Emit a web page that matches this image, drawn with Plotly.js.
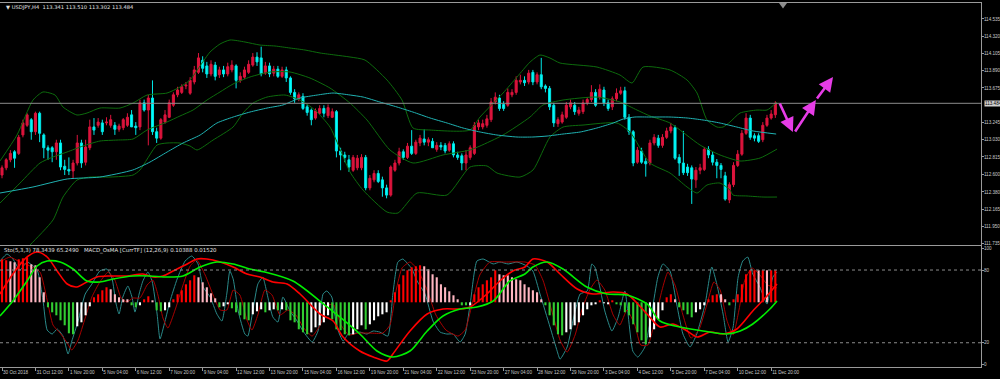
<!DOCTYPE html>
<html><head><meta charset="utf-8">
<script src="https://cdn.plot.ly/plotly-3.0.1.min.js"></script>
<style>html,body{margin:0;padding:0;background:#000;}#chart{width:1000px;height:379px;}</style>
</head><body><div id="chart"></div>
<script>
const symbol = "USDJPY,H4";
const tickLabels = ["30 Oct 2018","31 Oct 12:00","1 Nov 20:00","5 Nov 04:00","6 Nov 12:00","7 Nov 20:00","9 Nov 04:00","12 Nov 12:00","13 Nov 20:00","15 Nov 04:00","16 Nov 12:00","19 Nov 20:00","21 Nov 04:00","22 Nov 12:00","23 Nov 20:00","27 Nov 04:00","28 Nov 12:00","29 Nov 20:00","3 Dec 04:00","4 Dec 12:00","5 Dec 20:00","7 Dec 04:00","10 Dec 12:00","11 Dec 20:00"];
const barsPerLabel = 8;
const priceTicks = [114.535,114.320,114.105,113.890,113.675,113.245,113.030,112.815,112.600,112.380,112.165,111.950,111.735];

const openP = [
112.59,112.68,112.78,112.88,112.86,113.09,113.21,113.28,113.13,113.36,
113.09,112.93,112.93,112.88,112.99,112.70,112.66,112.64,112.74,112.99,
112.75,112.93,113.19,113.21,113.24,113.24,113.21,113.21,113.16,113.18,
113.21,113.34,113.20,113.19,113.49,113.40,113.55,113.13,113.05,113.25,
113.31,113.46,113.59,113.62,113.70,113.61,113.75,113.87,114.02,113.95,
113.85,113.96,113.84,113.90,113.85,113.90,113.95,113.77,113.81,113.87,
113.96,114.06,114.05,113.86,113.95,113.86,113.91,113.82,113.90,113.80,
113.62,113.54,113.57,113.44,113.40,113.30,113.36,113.42,113.33,113.31,
113.38,112.89,112.84,112.78,112.65,112.68,112.68,112.81,112.43,112.53,
112.61,112.53,112.43,112.34,112.65,112.74,112.88,112.81,112.95,112.86,
112.99,113.04,113.00,113.01,112.91,112.96,112.96,112.90,112.98,112.84,
112.83,112.74,112.81,112.86,113.19,113.19,113.21,113.28,113.50,113.55,
113.47,113.46,113.59,113.62,113.75,113.77,113.75,113.87,113.75,113.84,
113.70,113.67,113.46,113.23,113.25,113.31,113.44,113.46,113.36,113.38,
113.49,113.53,113.62,113.56,113.65,113.49,113.44,113.54,113.61,113.64,
113.31,113.13,112.75,112.89,112.76,112.74,112.99,113.05,112.96,113.06,
113.14,113.18,112.81,112.74,112.69,112.68,112.53,112.65,112.66,112.91,
112.84,112.75,112.71,112.58,112.28,112.47,112.71,112.85,113.11,113.30,
113.08,113.08,113.03,113.21,113.30,113.341];
const highP = [
112.71,112.80,112.90,112.90,113.09,113.28,113.36,113.30,113.38,113.38,
113.11,112.96,112.95,113.03,113.03,112.78,112.81,112.78,113.09,113.03,
113.03,113.28,113.30,113.30,113.28,113.31,113.34,113.25,113.23,113.30,
113.36,113.40,113.25,113.53,113.53,113.59,113.77,113.18,113.30,113.40,
113.53,113.62,113.69,113.72,113.75,113.81,113.95,114.11,114.07,114.00,
114.02,114.00,113.94,113.95,113.99,114.02,113.97,113.87,113.94,114.02,
114.11,114.12,114.19,114.00,113.99,113.95,113.95,113.94,113.94,113.82,
113.66,113.62,113.61,113.47,113.42,113.42,113.46,113.46,113.47,113.42,
113.40,112.93,112.88,112.84,112.84,112.84,112.85,112.84,112.59,112.65,
112.65,112.57,112.47,112.71,112.78,112.93,112.91,112.99,113.15,113.03,
113.09,113.16,113.06,113.05,113.00,113.00,112.99,113.01,113.01,112.88,
112.86,112.90,112.96,113.25,113.28,113.28,113.34,113.55,113.62,113.59,
113.51,113.67,113.66,113.82,113.84,113.82,113.90,113.90,113.87,114.05,
113.72,113.70,113.49,113.31,113.38,113.50,113.53,113.50,113.44,113.53,
113.56,113.71,113.66,113.72,113.69,113.53,113.57,113.67,113.69,113.69,
113.35,113.15,112.94,112.93,112.80,113.03,113.10,113.09,113.10,113.18,
113.24,113.21,112.85,113.14,112.73,112.71,112.69,112.73,112.94,112.95,
112.88,112.79,112.74,112.63,112.50,112.75,112.90,113.15,113.36,113.34,
113.11,113.11,113.25,113.34,113.40,113.510];
const lowP = [
112.55,112.65,112.75,112.68,112.84,113.06,113.19,113.03,113.09,113.00,
112.80,112.78,112.75,112.78,112.65,112.59,112.59,112.55,112.71,112.68,
112.71,112.90,113.09,113.18,113.09,113.21,113.18,113.09,113.13,113.15,
113.19,113.19,113.09,113.15,113.38,112.96,113.09,112.99,113.03,113.23,
113.30,113.44,113.56,113.60,113.66,113.59,113.72,113.85,113.87,113.80,
113.82,113.77,113.80,113.81,113.82,113.87,113.67,113.74,113.79,113.85,
113.94,113.95,113.82,113.84,113.81,113.82,113.80,113.80,113.75,113.59,
113.49,113.51,113.40,113.33,113.21,113.28,113.34,113.31,113.30,113.30,
112.81,112.65,112.75,112.63,112.63,112.65,112.65,112.40,112.40,112.50,
112.49,112.32,112.30,112.32,112.63,112.71,112.78,112.79,112.84,112.84,
112.95,112.96,112.95,112.93,112.88,112.90,112.86,112.88,112.81,112.78,
112.65,112.65,112.78,112.84,113.15,113.16,113.18,113.25,113.47,113.39,
113.39,113.44,113.56,113.59,113.72,113.70,113.72,113.71,113.72,113.66,
113.62,113.40,113.19,113.19,113.23,113.29,113.41,113.34,113.33,113.35,
113.46,113.50,113.44,113.53,113.45,113.39,113.40,113.51,113.59,113.28,
113.09,112.70,112.73,112.73,112.57,112.71,112.96,112.93,112.93,113.04,
113.11,112.78,112.58,112.59,112.58,112.23,112.43,112.60,112.64,112.80,
112.71,112.55,112.55,112.27,112.24,112.44,112.69,112.83,113.09,113.03,
113.01,112.99,113.00,113.19,113.28,113.302];
const closeP = [
112.68,112.78,112.86,112.80,113.06,113.24,113.34,113.13,113.36,113.11,
112.93,112.90,112.88,112.99,112.69,112.66,112.64,112.74,112.99,112.74,
112.94,113.19,113.15,113.25,113.13,113.25,113.28,113.16,113.20,113.28,
113.31,113.19,113.18,113.49,113.40,113.55,113.13,113.05,113.28,113.34,
113.49,113.59,113.65,113.69,113.71,113.77,113.90,114.05,113.92,113.85,
113.97,113.82,113.90,113.85,113.94,113.96,113.77,113.82,113.90,113.97,
114.06,114.00,113.85,113.95,113.85,113.91,113.82,113.90,113.80,113.62,
113.54,113.59,113.42,113.37,113.28,113.39,113.42,113.36,113.43,113.38,
112.89,112.84,112.81,112.69,112.81,112.80,112.81,112.43,112.55,112.61,
112.51,112.43,112.34,112.69,112.74,112.88,112.81,112.95,112.86,113.00,
113.05,113.00,113.03,112.93,112.96,112.94,112.89,112.98,112.84,112.81,
112.74,112.84,112.93,113.21,113.24,113.23,113.29,113.50,113.56,113.42,
113.42,113.62,113.62,113.77,113.77,113.74,113.86,113.75,113.84,113.69,
113.67,113.44,113.24,113.28,113.34,113.46,113.49,113.38,113.40,113.49,
113.53,113.62,113.46,113.66,113.49,113.42,113.54,113.61,113.64,113.31,
113.13,112.74,112.90,112.75,112.73,112.99,113.06,112.96,113.06,113.14,
113.19,112.80,112.74,112.62,112.62,112.54,112.65,112.68,112.91,112.84,
112.75,112.71,112.66,112.29,112.47,112.71,112.85,113.11,113.30,113.06,
113.05,113.01,113.21,113.30,113.35,113.484];

// Slow moving average (cyan), read at sample bar positions
const maIdx = [-0.5,7.4,15.6,23.4,31.3,35.4,39.5,43.3,47.4,51.4,55.3,59.3,63.4,67.2,71.3,75.4,79.2,83.3,86.4,90.4,94.5,98.3,102.4,106.5,110.3,114.4,118.4,123.2,127.0,130.4,134.2,138.3,142.3,146.2,148.6,151.4,155.0,159.8,163.9,167.7,171.8,175.8,179.7,185.2];
const maVal = [112.366,112.441,112.541,112.565,112.653,112.752,112.877,112.989,113.089,113.238,113.313,113.375,113.425,113.463,113.550,113.587,113.612,113.587,113.562,113.500,113.438,113.375,113.301,113.238,113.176,113.126,113.089,113.064,113.064,113.076,113.101,113.126,113.176,113.238,113.288,113.313,113.313,113.313,113.301,113.276,113.238,113.188,113.139,113.101];

// Bollinger bands (green)
const bbUpIdx = [-0.48,3.59,7.42,9.81,12.68,14.59,17.94,20.33,23.44,28.23,31.34,34.69,39.47,42.58,44.98,47.37,49.76,52.15,54.55,58.13,61.72,65.31,68.90,72.49,76.08,79.67,83.25,86.84,92.11,95.69,98.33,102.39,111.96,114.35,119.86,123.21,126.32,128.71,131.10,133.49,142.34,147.85,150.72,153.35,159.81,163.88,166.27,168.66,171.05,172.49,174.16,176.56,180.62,183.01,185.41];
const bbUpVal = [112.765,113.089,113.525,113.625,113.587,113.438,113.338,113.363,113.425,113.425,113.487,113.587,113.612,113.687,113.774,113.949,114.123,114.223,114.273,114.248,114.210,114.198,114.173,114.148,114.111,114.086,114.061,114.023,113.774,113.525,113.176,113.151,113.151,113.313,113.612,113.812,113.998,114.086,114.048,113.986,113.936,113.836,113.737,113.936,113.899,113.774,113.612,113.276,113.188,113.188,113.251,113.363,113.400,113.400,113.500];
const bbMidIdx = [-0.48,4.31,9.09,12.2,15.55,19.38,23.44,27.51,31.34,34.69,39.47,42.58,45.69,49.04,52.15,55.26,59.33,64.11,68.9,73.68,78.47,83.25,87.32,92.82,98.33,105.5,111.96,114.35,119.86,126.32,129.43,134.21,142.34,147.85,151.91,155.02,159.81,166.99,171.77,176.56,181.34,185.41];
const bbMidVal = [112.241,112.490,112.740,112.815,112.877,112.952,113.014,113.026,113.039,113.151,113.251,113.326,113.400,113.525,113.625,113.724,113.812,113.874,113.874,113.799,113.674,113.487,113.276,112.902,112.740,112.840,112.902,112.952,113.089,113.313,113.463,113.525,113.562,113.500,113.400,113.326,113.238,112.964,112.840,112.765,112.802,112.914];
const bbLowIdx = [-0.48,6.7,12.2,14.59,17.94,21.05,25.84,31.34,33.01,37.08,39.47,42.58,44.98,46.65,50.48,55.26,57.66,60.05,63.4,67.7,71.29,74.88,78.47,83.25,86.36,92.11,94.74,99.28,106.46,111.96,116.03,118.42,123.92,127.03,131.1,134.21,138.99,147.13,150.24,155.02,159.81,163.88,166.27,168.66,171.77,174.16,174.88,178.23,182.06,185.41];
const bbLowVal = [111.344,111.718,112.030,112.316,112.528,112.565,112.565,112.590,112.653,112.964,112.989,112.989,112.952,112.902,113.026,113.188,113.363,113.487,113.562,113.587,113.525,113.400,113.188,112.628,112.403,112.129,112.117,112.366,112.341,112.690,112.703,112.615,112.565,112.653,113.064,113.188,113.213,113.238,113.126,112.740,112.615,112.441,112.366,112.466,112.490,112.403,112.341,112.329,112.316,112.316];

// Stochastic (5,3,3)
const stochKIdx = [-0.5,1.2,2.6,4.3,6.0,8.4,9.8,10.8,12.0,13.2,14.6,15.8,16.7,18.2,19.9,21.5,23.4,25.1,26.3,27.3,28.0,28.9,30.1,31.1,31.8,32.8,33.7,34.9,35.9,37.1,37.8,39.0,40.2,41.9,43.8,45.4,46.9,48.1,49.8,51.4,52.6,53.8,54.5,55.3,56.5,58.1,58.8,60.0,61.2,62.4,62.9,64.8,66.0,67.2,68.9,70.6,72.0,74.2,75.6,76.8,77.7,78.9,80.1,81.6,82.8,83.9,85.6,87.3,88.8,90.4,92.3,93.5,94.7,95.9,97.1,98.1,99.3,101.2,103.1,104.8,106.4,107.9,109.6,110.8,112.0,113.6,115.1,117.5,119.1,121.1,123.2,125.6,127.0,128.7,131.1,132.8,133.5,135.2,137.1,138.3,140.0,141.1,141.8,143.0,144.2,145.9,147.4,149.0,150.9,152.1,153.8,155.5,156.9,158.1,159.8,161.4,162.9,164.6,166.2,168.2,169.8,171.0,172.5,173.7,174.9,176.1,177.2,178.4,179.6,181.3,183.0,184.4,185.4];
const stochKVal = [87.4,93.2,89.1,80,86.6,80,55.2,30.5,27.2,31.3,25.5,10.7,21.4,37.9,60.2,68.4,79.2,80.8,73.4,51.9,43.7,57.7,66.8,57.7,45.3,60.2,70.9,78.3,70.9,43.7,23.1,37.9,54.4,72.6,87.4,91.6,85.0,66.0,57.7,43.7,37.9,61.0,79.2,72.6,46.2,27.2,25.5,46.2,68.4,74.2,68.4,41.2,37.1,57.7,46.2,37.9,29.7,20.6,29.7,60.2,62.7,57.7,33.0,21.4,27.2,27.2,28.8,27.2,29.7,28.8,25.5,60.2,86.6,89.1,85.0,80.8,70.9,60.2,37.9,28.8,27.2,27.2,20.6,27.2,51.9,87.4,89.1,85.0,86.6,85.0,86.6,83.3,79.2,60.2,33.0,13.2,6.5,16.5,46.2,60.2,62.7,85.0,82.5,66.0,46.2,29.7,41.2,62.7,13.2,8.2,16.5,46.2,74.2,85.0,79.2,51.9,27.2,16.5,27.2,51.9,82.5,68.4,43.7,20.6,33.0,74.2,87.4,90.7,76.7,66.0,51.9,74.2,78.3439];
const stochDIdx = [-0.5,1.9,4.3,6.7,9.1,10.8,12.2,13.9,15.6,16.7,18.2,19.9,21.5,23.4,25.4,27.0,28.5,29.9,31.3,33.0,34.7,36.1,37.3,38.5,39.7,41.4,43.3,45.0,46.6,48.6,50.5,52.2,53.8,55.3,56.9,58.6,59.8,61.2,62.9,64.6,66.5,68.4,70.3,72.2,74.2,76.1,77.8,79.4,81.1,83.0,85.2,88.0,91.1,92.8,94.3,95.7,97.6,99.5,101.7,103.8,106.2,109.1,110.8,112.4,114.3,116.7,120.3,125.1,127.5,129.4,131.8,133.5,135.2,137.1,138.7,140.6,142.3,144.2,146.2,147.8,149.5,151.4,152.8,154.5,156.2,157.9,159.3,161.0,162.9,164.8,166.7,168.6,170.3,171.8,173.4,174.9,176.3,177.7,179.4,181.3,183.2,185.4];
const stochDVal = [86.6,90.7,86.6,83.3,78.3,55.2,34.6,28.0,19.8,14.0,22.2,40.4,57.7,70.1,78.3,71.7,56.9,53.6,56.9,56.9,67.6,71.7,59.4,40.4,32.1,47.0,67.6,83.3,88.3,75.9,59.4,47.0,47.0,63.5,59.4,38.7,30.5,42.9,63.5,59.4,42.9,47.0,42.9,32.1,25.5,34.6,51.1,51.1,34.6,26.4,28.0,28.0,28.0,34.6,63.5,81.7,86.6,80.0,63.5,42.9,30.5,25.5,30.5,51.1,75.9,86.6,86.6,86.6,84.1,71.7,42.9,22.2,12.3,26.4,47.0,63.5,71.7,63.5,42.9,34.6,47.0,34.6,18.1,18.1,38.7,63.5,78.3,67.6,42.9,23.9,30.5,51.1,70.1,63.5,38.7,26.4,47.0,71.7,81.7,75.9,67.6,65.249];
const stochLevels = [20, 80];

// MACD OsMA (12,26,9): histogram + two signal curves (relative units)
const osmaVal = [
0.43,0.42,0.41,0.40,0.43,0.44,0.45,0.38,0.37,0.25,
0.10,-0.05,-0.10,-0.13,-0.18,-0.23,-0.31,-0.32,-0.24,-0.20,
-0.13,-0.04,0.05,0.08,0.12,0.15,0.13,0.08,0.05,0.03,
0.03,-0.03,-0.05,-0.03,0.03,0.06,0.02,-0.08,-0.09,-0.08,
-0.05,0.03,0.08,0.12,0.18,0.22,0.27,0.25,0.20,0.15,
0.09,0.04,-0.05,-0.04,-0.02,-0.06,-0.10,-0.13,-0.17,-0.18,
-0.12,-0.09,-0.07,-0.10,-0.08,-0.07,-0.08,-0.07,-0.08,-0.18,
-0.20,-0.27,-0.30,-0.32,-0.30,-0.25,-0.23,-0.20,-0.13,-0.17,
-0.27,-0.28,-0.32,-0.33,-0.32,-0.27,-0.23,-0.27,-0.22,-0.18,
-0.14,-0.12,-0.10,0.02,0.10,0.18,0.27,0.32,0.35,0.36,
0.37,0.36,0.33,0.28,0.25,0.18,0.15,0.11,0.07,0.03,
-0.03,-0.03,-0.03,0.08,0.15,0.18,0.22,0.25,0.32,0.28,
0.27,0.27,0.25,0.23,0.22,0.18,0.15,0.12,0.10,0.03,
-0.03,-0.13,-0.23,-0.32,-0.33,-0.30,-0.27,-0.23,-0.20,-0.13,
-0.07,-0.03,-0.02,0.02,-0.01,-0.02,0.02,-0.02,-0.03,-0.10,
-0.13,-0.22,-0.30,-0.38,-0.42,-0.35,-0.27,-0.17,-0.08,0.05,
0.08,0.03,-0.05,-0.08,-0.12,-0.15,-0.10,-0.07,-0.03,0.03,
0.07,0.08,0.08,0.03,-0.03,0.03,0.08,0.18,0.28,0.32,
0.32,0.32,0.32,0.32,0.32,0.32];
// state per bar: R rising above zero, F falling above zero, D falling below zero, U rising below zero
const osmaState = (
"RRFFRRRFFF"+"FDDDDDDDUU"+"UURRRRFFFF"+"FDDURRFDDU"+"URRRRRRFFF"+"FFDUUDDDDD"+
"UUUDUUDUDD"+"DDDDUUUUUD"+"DDDDUUUDUU"+"UUURRRRRRR"+"RFFFFFFFFF"+"DDURRRRRRF"+
"FFFFFFFFFF"+"DDDDDUUUUU"+"UUURUURDDD"+"DDDDDUUUUR"+"RFDDDDUUUR"+"RRFFDRRRRR"+
"RFRFRR").split("");
const macdRedIdx = [-0.5,2.6,6.0,8.4,10.8,13.2,15.6,17.9,20.3,22.7,25.8,29.9,33.7,36.1,38.5,40.9,44.3,46.6,49.0,52.2,55.3,58.6,61.7,64.8,68.2,71.3,76.1,79.2,81.6,85.6,88.8,92.1,93.5,97.6,101.7,105.5,109.6,112.0,116.0,119.1,122.2,125.1,127.0,130.4,133.5,137.6,141.4,146.2,149.5,154.3,157.4,160.5,163.9,166.3,169.4,172.5,175.8,179.6,183.0,185.4];
const macdRedVal = [0.083,0.283,0.453,0.503,0.453,0.313,0.183,0.153,0.203,0.253,0.263,0.263,0.283,0.253,0.263,0.313,0.383,0.433,0.433,0.403,0.353,0.283,0.253,0.203,0.183,0.083,-0.117,-0.187,-0.347,-0.487,-0.547,-0.587,-0.517,-0.287,-0.117,-0.067,-0.067,-0.047,0.083,0.213,0.313,0.353,0.433,0.403,0.283,0.133,0.083,0.103,0.083,-0.117,-0.247,-0.217,-0.287,-0.347,-0.297,-0.317,-0.267,-0.087,0.063,0.183];
const macdGreenIdx = [-0.5,2.6,6.0,8.4,10.8,13.9,17.0,20.3,23.4,26.6,31.3,35.4,39.5,43.3,47.4,51.4,55.3,59.3,62.9,69.6,77.8,85.6,89.7,93.5,97.6,101.7,105.5,109.6,113.6,117.5,121.5,125.1,127.0,130.4,134.2,139.9,144.7,149.5,154.3,157.4,162.2,167.7,173.4,176.6,179.6,183.7,185.4];
const macdGreenVal = [-0.137,0.013,0.213,0.363,0.413,0.403,0.333,0.213,0.203,0.233,0.263,0.263,0.253,0.263,0.353,0.403,0.383,0.333,0.303,0.213,-0.047,-0.317,-0.487,-0.547,-0.487,-0.287,-0.137,-0.067,-0.047,0.013,0.213,0.283,0.353,0.403,0.333,0.153,0.083,0.073,-0.017,-0.187,-0.247,-0.287,-0.317,-0.287,-0.217,-0.067,0.013];
const osmaInfo = ["0.10388","0.01520"];

// hand-drawn forecast arrows (bar index, price)
const arrowIdx = [185.9,189.2,189.5,194.7,198.8];
const arrowPrice = [113.500,113.126,113.114,113.525,113.812];

// ---------- build ----------
const n = closeP.length;
const bars = closeP.map((_, i) => i);
const last = n - 1;
const stateColor = {R:'#ff0000', F:'#ffb6c1', D:'#32cd32', U:'#ffffff'};
const axisCol = '#9a9a9a';
const txtCol = '#c8c8c8';
const FONT = 'Liberation Sans';
const HFONT = 'DejaVu Sans';

const traces = [
  {type:'candlestick', x:bars, open:openP, high:highP, low:lowP, close:closeP,
   xaxis:'x', yaxis:'y', whiskerwidth:0, hoverinfo:'skip',
   increasing:{line:{color:'#dc143c', width:1}, fillcolor:'#dc143c'},
   decreasing:{line:{color:'#00e6e6', width:1}, fillcolor:'#00ffff'}},
  {type:'scatter', mode:'lines', x:bbUpIdx, y:bbUpVal, xaxis:'x', yaxis:'y', line:{color:'#0d6b0d', width:1, shape:'spline', smoothing:0.6}, hoverinfo:'skip'},
  {type:'scatter', mode:'lines', x:bbMidIdx, y:bbMidVal, xaxis:'x', yaxis:'y', line:{color:'#0d6b0d', width:1, shape:'spline', smoothing:0.6}, hoverinfo:'skip'},
  {type:'scatter', mode:'lines', x:bbLowIdx, y:bbLowVal, xaxis:'x', yaxis:'y', line:{color:'#0d6b0d', width:1, shape:'spline', smoothing:0.6}, hoverinfo:'skip'},
  {type:'scatter', mode:'lines', x:maIdx, y:maVal, xaxis:'x', yaxis:'y', line:{color:'#20b2b2', width:1, shape:'spline', smoothing:0.6}, hoverinfo:'skip'},
  {type:'scatter', mode:'lines', x:stochKIdx, y:stochKVal, xaxis:'x2', yaxis:'y2', line:{color:'#2a8a8a', width:1, shape:'spline', smoothing:0.5}, hoverinfo:'skip'},
  {type:'scatter', mode:'lines', x:stochDIdx, y:stochDVal, xaxis:'x2', yaxis:'y2', line:{color:'#a80000', width:1, shape:'spline', smoothing:0.5}, hoverinfo:'skip'},
  {type:'bar', x:bars, y:osmaVal, xaxis:'x2', yaxis:'y3', width:0.5,
   marker:{color:osmaState.map(s => stateColor[s]), line:{width:0}}, hoverinfo:'skip'},
  {type:'scatter', mode:'lines', x:macdRedIdx, y:macdRedVal, xaxis:'x2', yaxis:'y3', line:{color:'#ff0000', width:1.6, shape:'spline', smoothing:0.8}, hoverinfo:'skip'},
  {type:'scatter', mode:'lines', x:macdGreenIdx, y:macdGreenVal, xaxis:'x2', yaxis:'y3', line:{color:'#00ee00', width:1.6, shape:'spline', smoothing:0.8}, hoverinfo:'skip'}
];

const XR = [-0.48, 234.2];
const XD = [0, 0.981];
const annotations = [
  {xref:'paper', yref:'paper', x:0.004, y:0.989, xanchor:'left', yanchor:'middle', showarrow:false,
   text:'\u25BC ' + symbol + '  ' + openP[last].toFixed(3) + ' ' + highP[last].toFixed(3) + ' ' + lowP[last].toFixed(3) + ' ' + closeP[last].toFixed(3),
   font:{family:HFONT, size:5.2, color:'#e0e0e0'}},
  {xref:'paper', yref:'paper', x:0.002, y:0.3214, xanchor:'left', yanchor:'middle', showarrow:false,
   text:'Sto(5,3,3) ' + stochKVal[stochKVal.length-1].toFixed(4) + ' ' + stochDVal[stochDVal.length-1].toFixed(4) + '   MACD_OsMA [CurrTF] (12,26,9) ' + osmaInfo[0] + ' ' + osmaInfo[1],
   font:{family:HFONT, size:5.4, color:'#e0e0e0'}},
  {xref:'paper', yref:'y', x:0.9835, y:closeP[last], xanchor:'left', yanchor:'middle', showarrow:false,
   text:closeP[last].toFixed(3), bgcolor:'#d0d0d0', borderpad:0, font:{family:FONT, size:4.6, color:'#000'}},
  {xref:'x', yref:'y', axref:'x', ayref:'y', x:arrowIdx[1], y:arrowPrice[1], ax:arrowIdx[0], ay:arrowPrice[0], text:'', showarrow:true, arrowhead:2, arrowsize:1.1, arrowwidth:2.6, arrowcolor:'#e63ce6'},
  {xref:'x', yref:'y', axref:'x', ayref:'y', x:arrowIdx[3], y:arrowPrice[3], ax:arrowIdx[2], ay:arrowPrice[2], text:'', showarrow:true, arrowhead:2, arrowsize:1.1, arrowwidth:2.6, arrowcolor:'#e63ce6'},
  {xref:'x', yref:'y', axref:'x', ayref:'y', x:arrowIdx[4], y:arrowPrice[4], ax:arrowIdx[3], ay:arrowPrice[3], text:'', showarrow:true, arrowhead:2, arrowsize:1.1, arrowwidth:2.6, arrowcolor:'#e63ce6'}
];

const shapes = [
  {type:'line', xref:'paper', yref:'y', x0:0, x1:XD[1], y0:closeP[last], y1:closeP[last], line:{color:'#8c8c8c', width:1}},
  ...stochLevels.map(v => ({type:'line', xref:'paper', yref:'y2', x0:0, x1:XD[1], y0:v, y1:v, line:{color:'#8c8c8c', width:1, dash:'dot'}})),
  {type:'path', xref:'paper', yref:'paper', path:'M 0.779 1 L 0.787 1 L 0.783 0.985 Z', fillcolor:'#8c8c8c', line:{width:0}}
];

const tickFont = {family:FONT, size:4.6, color:txtCol};
const layout = {
  width:1000, height:379,
  paper_bgcolor:'#000000', plot_bgcolor:'#000000',
  margin:{l:0, r:0, t:3, b:12, pad:0},
  showlegend:false, hovermode:false, dragmode:false,
  font:{family:FONT, size:5, color:txtCol},
  xaxis:{domain:XD, range:XR, anchor:'y', showticklabels:false, ticks:'', showgrid:false, zeroline:false,
         showline:true, linecolor:axisCol, linewidth:1, mirror:true, rangeslider:{visible:false}, fixedrange:true},
  xaxis2:{domain:XD, range:XR, anchor:'y2', showgrid:false, zeroline:false,
          tickvals:tickLabels.map((_, k) => k*barsPerLabel), ticktext:tickLabels,
          ticks:'outside', ticklen:3, tickcolor:axisCol, ticklabelposition:'outside right',
          tickfont:tickFont, tickangle:0,
          showline:true, linecolor:axisCol, linewidth:1, mirror:true, fixedrange:true},
  yaxis:{domain:[0.335, 1], range:[111.7175, 114.734], anchor:'x', side:'right',
         tickvals:priceTicks, ticktext:priceTicks.map(v => v.toFixed(3)),
         ticks:'outside', ticklen:2, tickcolor:axisCol, tickfont:tickFont, ticklabelstandoff:-1,
         showgrid:false, zeroline:false, showline:true, linecolor:axisCol, linewidth:1, mirror:true, fixedrange:true},
  yaxis2:{domain:[0, 0.333], range:[0, 100], anchor:'x2', side:'right',
          tickvals:[2.4, 20, 80, 97.6], ticktext:['0','20','80','100'],
          ticks:'outside', ticklen:2, tickcolor:axisCol, tickfont:tickFont, ticklabelstandoff:-1,
          showgrid:false, zeroline:false, showline:true, linecolor:axisCol, linewidth:1, mirror:true, fixedrange:true},
  yaxis3:{overlaying:'y2', range:[-0.647, 0.565], visible:false, fixedrange:true},
  annotations:annotations,
  shapes:shapes
};

Plotly.newPlot('chart', traces, layout, {displayModeBar:false, staticPlot:true});
</script>
</body></html>
